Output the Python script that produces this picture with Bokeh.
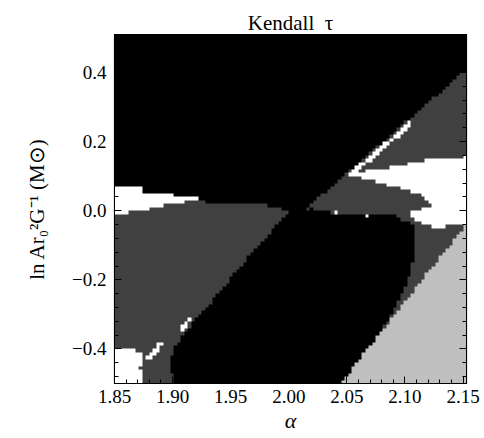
import numpy as np
from bokeh.plotting import figure
from bokeh.models import (LinearColorMapper, LinearAxis, FixedTicker,
                          CustomJSTickFormatter, Range1d)
from bokeh.embed import file_html
from bokeh.resources import INLINE

# ---- grid of the map (alpha horizontally, ln A r0^2 G^-1 vertically) ----
alpha_start, alpha_step, n_alpha = 1.85, 0.003, 101
lnA_start, lnA_step, n_lnA = -0.5, 0.01, 101

# category codes -> grey levels
BLACK, DARK, LIGHT, WHITE = 0, 1, 2, 3
level_colors = ["#000000", "#404040", "#bfbfbf", "#ffffff"]

# ---- region boundaries (alpha, lnA) ----
dark_left_alpha = [1.845, 1.8754, 1.890, 1.9072, 1.9184, 1.9304, 1.9562, 1.9846, 2.0001,
                   1.9846, 1.9614, 1.9373, 1.9201, 1.9115, 1.9029, 1.8969, 1.9003, 1.9003, 1.845]
dark_left_lnA = [-0.0087, 0.0, 0.0145, 0.0232, 0.029, 0.0232, 0.0203, 0.0145, 0.0,
                 -0.0609, -0.1507, -0.2464, -0.3131, -0.348, -0.3915, -0.435, -0.4785, -0.52, -0.52]

dark_right_alpha = [2.0129, 2.16, 2.16, 2.0447, 2.0447, 2.0559, 2.0731, 2.0851, 2.0963, 2.1049,
                    2.1092, 2.1075, 2.0963, 2.0937, 2.068, 2.0387, 2.0189]
dark_right_lnA = [0.0, 0.4285, -0.52, -0.52, -0.5017, -0.455, -0.377, -0.319, -0.252, -0.1826,
                  -0.1073, -0.0377, -0.029, -0.0145, -0.0087, -0.0058, 0.0058]

white_band_alpha = [1.845, 1.8728, 1.8745, 1.9012, 1.9046, 1.9210, 1.9184, 1.9072, 1.8900,
                    1.8754, 1.853, 1.845]
white_band_lnA = [0.0667, 0.067, 0.052, 0.046, 0.041, 0.035, 0.029, 0.023, 0.0145,
                  0.0, -0.0087, -0.009]

white_corner_alpha = [1.845, 1.8599, 1.8685, 1.8728, 1.8754, 1.8702, 1.8754, 1.8728, 1.8711, 1.845]
white_corner_lnA = [-0.397, -0.397, -0.406, -0.4145, -0.4406, -0.4551, -0.4725, -0.4928, -0.52, -0.52]

white_right_alpha = [2.0508, 2.062, 2.0852, 2.105, 2.1248, 2.16, 2.16, 2.1411, 2.1308, 2.1179,
                     2.1076, 2.105, 2.1179, 2.1239, 2.1136, 2.0964, 2.0792, 2.062]
white_right_lnA = [0.0957, 0.113, 0.1247, 0.1362, 0.1507, 0.1565, -0.0348, -0.0406, -0.0493, -0.0406,
                   -0.0261, -0.0058, 0.0087, 0.0174, 0.0464, 0.0638, 0.0812, 0.0957]

light_alpha = [2.16, 2.0397, 2.16]
light_lnA = [-0.0083, -0.52, -0.52]

# thin white streaks (start alpha, start lnA, end alpha, end lnA)
streak_a0 = [2.0534, 1.8788, 1.9090, 2.0405, 2.0689]
streak_l0 = [0.1044, -0.4263, -0.340, -0.0087, -0.0145]
streak_a1 = [2.1050, 1.8900, 1.9140, 2.0405, 2.0689]
streak_l1 = [0.2522, -0.3857, -0.315, -0.0087, -0.0145]

# ---- axis ticks ----
alpha_ticks = [1.85, 1.90, 1.95, 2.00, 2.05, 2.10, 2.15]
lnA_ticks = [-0.4, -0.2, 0.0, 0.2, 0.4]
alpha_minor = [round(1.85 + 0.01 * k, 2) for k in range(31)]
lnA_minor = [round(-0.48 + 0.04 * k, 2) for k in range(25)]

# ---- build the categorical map ----
a_c = alpha_start + alpha_step * (np.arange(n_alpha) + 0.5)
l_c = lnA_start + lnA_step * (np.arange(n_lnA) + 0.5)
AA, LL = np.meshgrid(a_c, l_c)


def inside(vx, vy):
    vx = np.asarray(vx, float)
    vy = np.asarray(vy, float)
    res = np.zeros(AA.shape, bool)
    j = len(vx) - 1
    with np.errstate(divide="ignore", invalid="ignore"):
        for i in range(len(vx)):
            crosses = (vy[i] > LL) != (vy[j] > LL)
            xint = (vx[j] - vx[i]) * (LL - vy[i]) / (vy[j] - vy[i]) + vx[i]
            res ^= crosses & (AA < xint)
            j = i
    return res


grid = np.full(AA.shape, BLACK, dtype=float)
grid[inside(dark_left_alpha, dark_left_lnA)] = DARK
grid[inside(dark_right_alpha, dark_right_lnA)] = DARK
grid[inside(white_band_alpha, white_band_lnA)] = WHITE
grid[inside(white_corner_alpha, white_corner_lnA)] = WHITE
grid[inside(white_right_alpha, white_right_lnA)] = WHITE
grid[inside(light_alpha, light_lnA)] = LIGHT
for a0, l0, a1, l1 in zip(streak_a0, streak_l0, streak_a1, streak_l1):
    for t in np.linspace(0, 1, 80):
        ia = int((a0 + t * (a1 - a0) - alpha_start) / alpha_step)
        il = int((l0 + t * (l1 - l0) - lnA_start) / lnA_step)
        if 0 <= ia < n_alpha and 0 <= il < n_lnA:
            grid[il, ia] = WHITE

mapper = LinearColorMapper(palette=level_colors, low=-0.5, high=3.5)

x_end = alpha_start + alpha_step * n_alpha
y_end = lnA_start + lnA_step * n_lnA

serif = "Liberation Serif"
xticker = FixedTicker(ticks=alpha_ticks, minor_ticks=alpha_minor)
yticker = FixedTicker(ticks=lnA_ticks, minor_ticks=lnA_minor)
xfmt = CustomJSTickFormatter(code="return tick.toFixed(2);")
yfmt = CustomJSTickFormatter(code="return tick.toFixed(1).replace('-', '\u2212');")
blank = CustomJSTickFormatter(code="return '';")

p = figure(width=484, height=438, output_backend="svg", toolbar_location=None,
           x_range=Range1d(alpha_start, x_end), y_range=Range1d(lnA_start, y_end),
           x_axis_location=None, y_axis_location=None,
           min_border_left=114, min_border_right=18, min_border_top=34, min_border_bottom=55,
           title="Kendall \u00a0τ")
p.image(image=[grid], x=alpha_start, y=lnA_start, dw=x_end - alpha_start, dh=y_end - lnA_start,
        color_mapper=mapper)

p.grid.visible = False
p.outline_line_color = "black"
p.outline_line_width = 1.2
p.background_fill_color = "black"

p.title.text_font = serif
p.title.text_font_size = "21px"
p.title.text_font_style = "normal"
p.title.text_color = "black"
p.title.align = "center"
p.title.standoff = 0

bottom = LinearAxis(ticker=xticker, formatter=xfmt, axis_label="α")
left = LinearAxis(ticker=yticker, formatter=yfmt, axis_label="ln Ar₀²G⁻¹ (M⊙)")
top = LinearAxis(ticker=xticker, formatter=blank, major_label_standoff=0)
right = LinearAxis(ticker=yticker, formatter=blank, major_label_standoff=0)

for ax in (bottom, left, top, right):
    ax.major_tick_in = 7
    ax.major_tick_out = 0
    ax.minor_tick_in = 4
    ax.minor_tick_out = 0
    ax.axis_line_color = "black"
    ax.major_tick_line_color = "black"
    ax.minor_tick_line_color = "black"
    ax.major_label_text_font = serif
    ax.major_label_text_color = "black"
    ax.axis_label_text_font = serif
    ax.axis_label_text_font_style = "normal"
    ax.axis_label_text_color = "black"

top.major_label_text_font_size = "1px"
right.major_label_text_font_size = "1px"
bottom.major_label_text_font_size = "19px"
left.major_label_text_font_size = "19px"
bottom.major_label_standoff = 6
left.major_label_standoff = 8
bottom.axis_label_text_font_size = "22px"
bottom.axis_label_text_font_style = "italic"
bottom.axis_label_standoff = 2
left.axis_label_text_font_size = "21px"
left.axis_label_standoff = 20

p.add_layout(bottom, "below")
p.add_layout(left, "left")
p.add_layout(top, "above")
p.add_layout(right, "right")

open("out.html", "w").write(file_html(p, INLINE))
